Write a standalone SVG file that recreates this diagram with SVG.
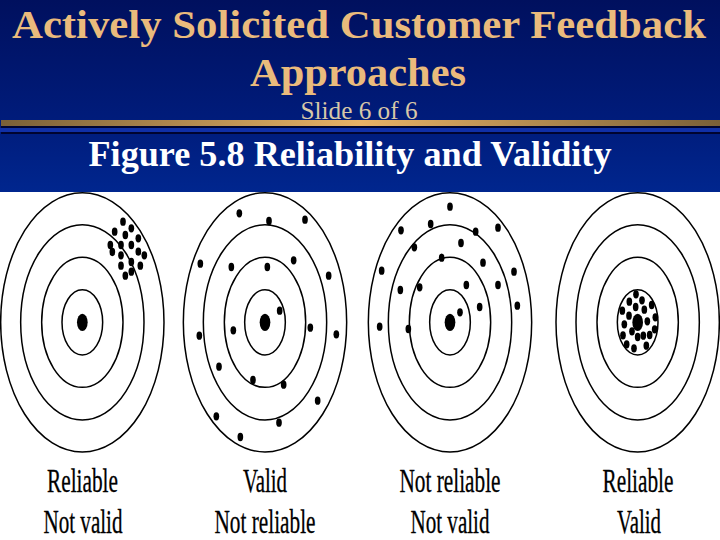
<svg xmlns="http://www.w3.org/2000/svg" width="720" height="540" viewBox="0 0 720 540">
<style>
.ring{fill:none;stroke:#000;stroke-width:4.5}
.dot{fill:#000}
.t{font-family:"Liberation Serif","Times New Roman",serif;text-anchor:middle}
.title{font-size:41px;font-weight:bold;fill:#eabb7c}
.sub{font-size:25px;fill:#d8c8a8}
.fig{font-size:36px;font-weight:bold;fill:#fff}
.lab{font-size:34px;fill:#000;stroke:#000;stroke-width:.3}
</style>
<defs>
<linearGradient id="bg" x1="0" y1="0" x2="0" y2="1"><stop offset="0" stop-color="#00105e"/><stop offset=".65" stop-color="#001c7c"/><stop offset="1" stop-color="#00268e"/></linearGradient>
<linearGradient id="bar" x1="0" y1="0" x2="1" y2="0"><stop offset="0" stop-color="#7a6038"/><stop offset=".5" stop-color="#e8b266"/><stop offset="1" stop-color="#7a6038"/></linearGradient>
<g id="rings">
<ellipse class="ring" cx="0" cy="0" rx="245" ry="389"/>
<ellipse class="ring" cx="0" cy="0" rx="185" ry="293"/>
<ellipse class="ring" cx="0" cy="0" rx="122" ry="195"/>
<ellipse class="ring" cx="0" cy="0" rx="61" ry="98"/>
<ellipse class="dot" cx="0" cy="0" rx="16" ry="26"/>
</g>
<ellipse id="d" class="dot" rx="8.5" ry="12.5"/>
</defs>
<rect width="720" height="540" fill="#fff"/>
<g id="header">
<rect width="720" height="192" fill="url(#bg)"/>
<rect x="1" y="120" width="719" height="6" fill="url(#bar)"/>
<rect x="1" y="126" width="719" height="2" fill="#000430"/>
<rect x="0" y="128" width="720" height="4" fill="#1030a8"/>
<rect x="1" y="132" width="719" height="2" fill="#000430"/>
<text class="t title" x="359" y="38" textLength="694" lengthAdjust="spacingAndGlyphs">Actively Solicited Customer Feedback</text>
<text class="t title" x="358" y="86" textLength="216" lengthAdjust="spacingAndGlyphs">Approaches</text>
<text class="t sub" x="359" y="119" textLength="117" lengthAdjust="spacingAndGlyphs">Slide 6 of 6</text>
<text class="t fig" x="350" y="166" textLength="523" lengthAdjust="spacingAndGlyphs">Figure 5.8 Reliability and Validity</text>
</g>
<g id="target1" transform="translate(0,190) scale(.33333)">
<use href="#rings" x="247" y="397"/>
<g id="dots1">
<use href="#d" x="369" y="95"/><use href="#d" x="394" y="115"/><use href="#d" x="344" y="125"/><use href="#d" x="376" y="135"/><use href="#d" x="415" y="145"/><use href="#d" x="331" y="165"/><use href="#d" x="363" y="165"/><use href="#d" x="394" y="165"/><use href="#d" x="337" y="186"/><use href="#d" x="415" y="185"/><use href="#d" x="363" y="196"/><use href="#d" x="433" y="196"/><use href="#d" x="394" y="216"/><use href="#d" x="363" y="227"/><use href="#d" x="421" y="227"/><use href="#d" x="394" y="245"/><use href="#d" x="376" y="257"/>
</g>
</g>
<g id="target2" transform="translate(180,190) scale(.33333)">
<use href="#rings" x="255" y="397"/>
<g id="dots2">
<use href="#d" x="178" y="70"/><use href="#d" x="267" y="93"/><use href="#d" x="375" y="89"/><use href="#d" x="61" y="221"/><use href="#d" x="154" y="231"/><use href="#d" x="262" y="231"/><use href="#d" x="341" y="211"/><use href="#d" x="446" y="257"/><use href="#d" x="299" y="362"/><use href="#d" x="160" y="421"/><use href="#d" x="391" y="413"/><use href="#d" x="58" y="437"/><use href="#d" x="469" y="433"/><use href="#d" x="117" y="530"/><use href="#d" x="219" y="570"/><use href="#d" x="311" y="584"/><use href="#d" x="413" y="632"/><use href="#d" x="109" y="679"/><use href="#d" x="297" y="698"/><use href="#d" x="181" y="741"/>
</g>
</g>
<g id="target3" transform="translate(360,190) scale(.33333)">
<use href="#rings" x="270" y="397"/>
<g id="dots3">
<use href="#d" x="270" y="50"/><use href="#d" x="212" y="102"/><use href="#d" x="123" y="121"/><use href="#d" x="347" y="125"/><use href="#d" x="414" y="113"/><use href="#d" x="163" y="172"/><use href="#d" x="303" y="159"/><use href="#d" x="245" y="203"/><use href="#d" x="369" y="218"/><use href="#d" x="65" y="242"/><use href="#d" x="462" y="245"/><use href="#d" x="121" y="300"/><use href="#d" x="179" y="292"/><use href="#d" x="319" y="285"/><use href="#d" x="414" y="285"/><use href="#d" x="359" y="351"/><use href="#d" x="472" y="347"/><use href="#d" x="300" y="367"/><use href="#d" x="59" y="410"/><use href="#d" x="145" y="417"/>
</g>
</g>
<g id="target4" transform="translate(540,190) scale(.33333)">
<use href="#rings" x="293" y="397"/>
<g id="dots4">
<use href="#d" x="288" y="313"/><use href="#d" x="268" y="335"/><use href="#d" x="306" y="331"/><use href="#d" x="335" y="345"/><use href="#d" x="287" y="351"/><use href="#d" x="313" y="359"/><use href="#d" x="247" y="362"/><use href="#d" x="267" y="377"/><use href="#d" x="346" y="382"/><use href="#d" x="322" y="394"/><use href="#d" x="253" y="403"/><use href="#d" x="344" y="418"/><use href="#d" x="276" y="424"/><use href="#d" x="249" y="436"/><use href="#d" x="293" y="441"/><use href="#d" x="310" y="437"/><use href="#d" x="329" y="435"/><use href="#d" x="260" y="463"/><use href="#d" x="282" y="475"/><use href="#d" x="319" y="467"/>
</g>
</g>
<g id="labels">
<text class="t lab" x="82.5" y="491.5" textLength="71" lengthAdjust="spacingAndGlyphs">Reliable</text>
<text class="t lab" x="83" y="532.5" textLength="79" lengthAdjust="spacingAndGlyphs">Not valid</text>
<text class="t lab" x="265" y="491.5" textLength="44" lengthAdjust="spacingAndGlyphs">Valid</text>
<text class="t lab" x="265" y="532.5" textLength="101" lengthAdjust="spacingAndGlyphs">Not reliable</text>
<text class="t lab" x="450" y="491.5" textLength="101" lengthAdjust="spacingAndGlyphs">Not reliable</text>
<text class="t lab" x="450" y="532.5" textLength="79" lengthAdjust="spacingAndGlyphs">Not valid</text>
<text class="t lab" x="638" y="491.5" textLength="71" lengthAdjust="spacingAndGlyphs">Reliable</text>
<text class="t lab" x="639" y="532.5" textLength="44" lengthAdjust="spacingAndGlyphs">Valid</text>
</g>
</svg>
